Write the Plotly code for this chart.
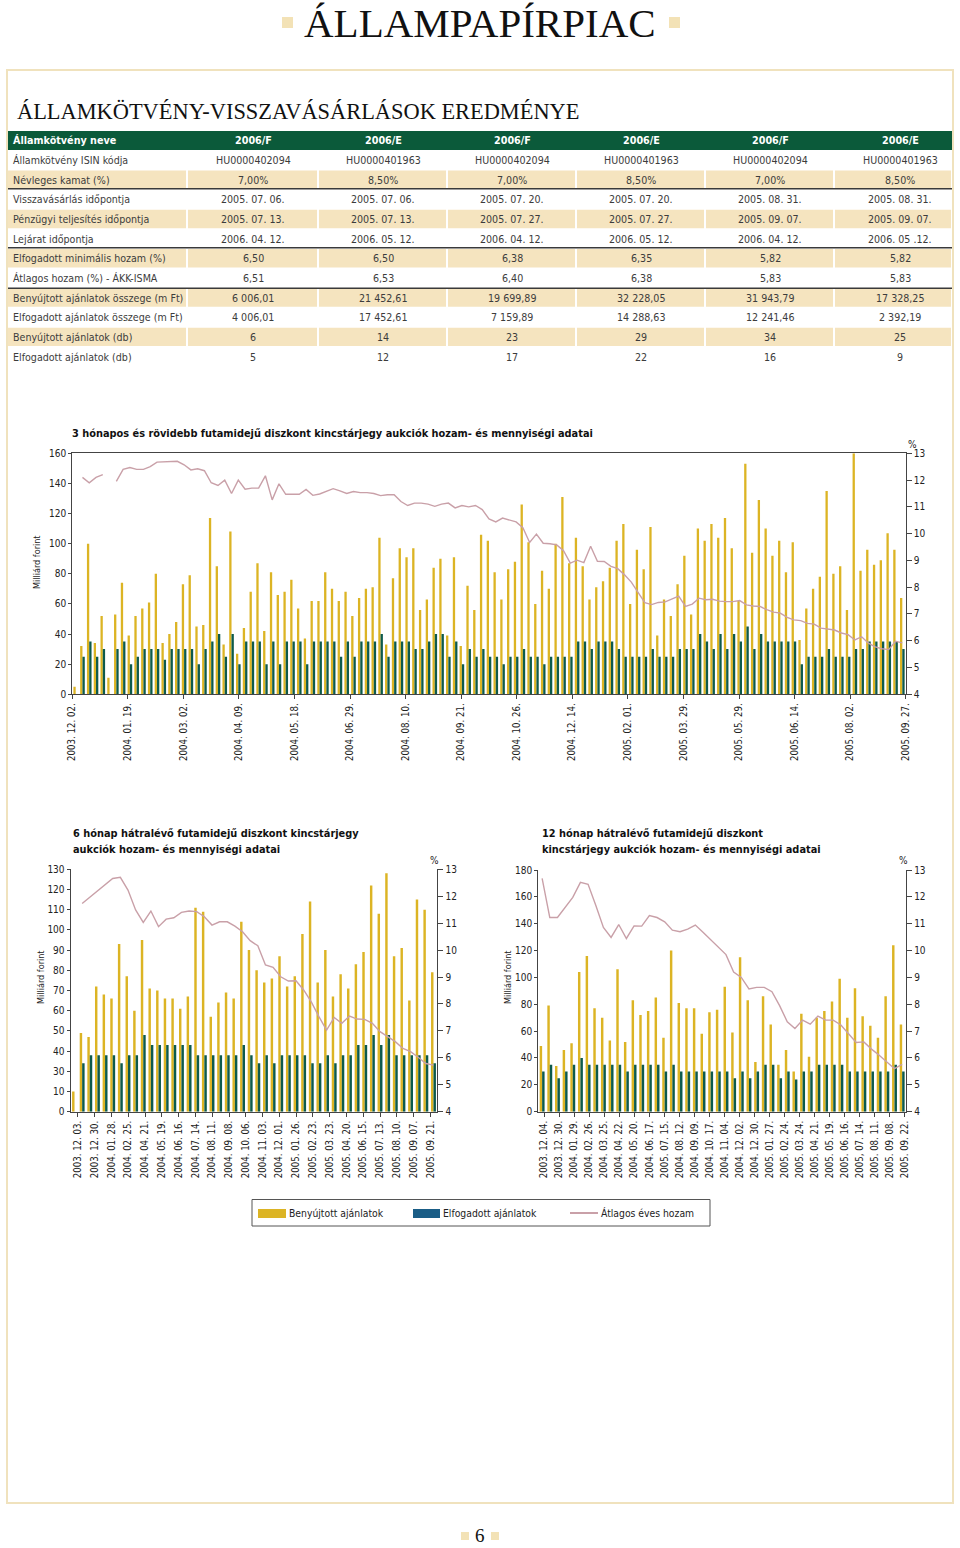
import plotly.graph_objects as go

# ---------------------------------------------------------------- data
table_header = ["Államkötvény neve", "2006/F", "2006/E", "2006/F", "2006/E", "2006/F", "2006/E"]
row_labels = [
    "Államkötvény ISIN kódja", "Névleges kamat (%)", "Visszavásárlás időpontja",
    "Pénzügyi teljesítés időpontja", "Lejárat időpontja", "Elfogadott minimális hozam (%)",
    "Átlagos hozam (%) - ÁKK-ISMA", "Benyújtott ajánlatok összege (m Ft)",
    "Elfogadott ajánlatok összege (m Ft)", "Benyújtott ajánlatok (db)", "Elfogadott ajánlatok (db)",
]
isin_codes = ["HU0000402094", "HU0000401963", "HU0000402094", "HU0000401963", "HU0000402094", "HU0000401963"]
nominal_rate = ["7,00%", "8,50%", "7,00%", "8,50%", "7,00%", "8,50%"]
buyback_date = ["2005. 07. 06.", "2005. 07. 06.", "2005. 07. 20.", "2005. 07. 20.", "2005. 08. 31.", "2005. 08. 31."]
settlement_date = ["2005. 07. 13.", "2005. 07. 13.", "2005. 07. 27.", "2005. 07. 27.", "2005. 09. 07.", "2005. 09. 07."]
maturity_date = ["2006. 04. 12.", "2006. 05. 12.", "2006. 04. 12.", "2006. 05. 12.", "2006. 04. 12.", "2006. 05 .12."]
min_yield = ["6,50", "6,50", "6,38", "6,35", "5,82", "5,82"]
avg_yield = ["6,51", "6,53", "6,40", "6,38", "5,83", "5,83"]
submitted_amount = ["6 006,01", "21 452,61", "19 699,89", "32 228,05", "31 943,79", "17 328,25"]
accepted_amount = ["4 006,01", "17 452,61", "7 159,89", "14 288,63", "12 241,46", "2 392,19"]
submitted_count = ["6", "14", "23", "29", "34", "25"]
accepted_count = ["5", "12", "17", "22", "16", "9"]

# 3 hónapos és rövidebb
top_labels = ["2003. 12. 02.", "2004. 01. 19.", "2004. 03. 02.", "2004. 04. 09.", "2004. 05. 18.",
              "2004. 06. 29.", "2004. 08. 10.", "2004. 09. 21.", "2004. 10. 26.", "2004. 12. 14.",
              "2005. 02. 01.", "2005. 03. 29.", "2005. 05. 29.", "2005. 06. 14.", "2005. 08. 02.",
              "2005. 09. 27."]
top_submitted = [5, 32, 100, 34, 52, 11, 53, 74, 39, 52, 57, 61, 80, 34, 40, 48, 73, 79, 45, 46,
                 117, 85, 33, 108, 27, 44, 68, 87, 42, 81, 66, 68, 76, 57, 37, 62, 62, 81, 70, 62,
                 68, 52, 64, 70, 71, 104, 33, 77, 97, 91, 97, 56, 63, 84, 90, 39, 91, 32, 72, 56,
                 106, 102, 81, 63, 83, 88, 126, 101, 60, 82, 70, 100, 131, 87, 104, 85, 63, 71, 75, 84,
                 102, 113, 60, 96, 83, 111, 39, 63, 52, 73, 92, 53, 110, 102, 113, 104, 117, 97, 62, 153,
                 94, 129, 110, 92, 102, 81, 101, 36, 57, 70, 78, 135, 80, 85, 56, 160, 82, 96, 86, 89,
                 107, 96, 64]
top_accepted = [0, 25, 35, 25, 30, 0, 30, 35, 20, 25, 30, 30, 30, 23, 30, 30, 30, 30, 20, 30,
                35, 40, 25, 40, 20, 35, 35, 35, 20, 35, 20, 35, 35, 35, 20, 35, 35, 35, 35, 25,
                35, 25, 35, 35, 35, 40, 25, 35, 35, 35, 30, 30, 35, 40, 40, 25, 35, 20, 30, 25,
                30, 25, 25, 20, 25, 25, 30, 25, 25, 20, 25, 25, 25, 25, 35, 35, 30, 35, 35, 35,
                30, 25, 25, 25, 25, 30, 25, 25, 25, 30, 30, 30, 40, 35, 30, 40, 30, 40, 35, 45,
                30, 40, 35, 35, 35, 35, 35, 20, 25, 25, 25, 30, 25, 25, 25, 30, 30, 35, 35, 35,
                35, 35, 30]
top_yield = [None, 12.1, 11.9, 12.1, 12.2, None, 11.95, 12.4, 12.47, 12.4, 12.4, 12.5, 12.67, 12.68,
             12.7, 12.7, 12.57, 12.38, 12.42, 12.35, 11.9, 11.8, 12.0, 11.5, 12.0, 11.66, 11.7, 11.7,
             12.16, 11.26, 11.86, 11.47, 11.47, 11.47, 11.65, 11.43, 11.48, 11.57, 11.68, 11.6, 11.5,
             11.57, 11.53, 11.53, 11.5, 11.42, 11.45, 11.45, 11.2, 11.05, 11.14, 11.14, 11.1, 11.02,
             11.1, 11.14, 10.96, 11.05, 11.0, 11.05, 10.9, 10.55, 10.44, 10.58, 10.5, 10.44, 10.22,
             9.67, 9.98, 9.64, 9.62, 9.58, 9.36, 8.9, 9.01, 8.92, 9.53, 8.97, 8.96, 8.78, 8.69, 8.46,
             8.19, 7.8, 7.42, 7.35, 7.43, 7.45, 7.55, 7.67, 7.28, 7.37, 7.59, 7.53, 7.55, 7.48, 7.46,
             7.46, 7.5, 7.34, 7.3, 7.28, 7.16, 7.07, 7.03, 6.87, 6.78, 6.75, 6.65, 6.62, 6.47, 6.43,
             6.4, 6.29, 6.23, 6.03, 6.15, 5.91, 5.77, 5.7, 5.67, 5.98, 5.92]

# 6 hónap hátralévő futamidő (left axis printed labels as in the original)
six_labels = ["2003. 12. 03.", "2003. 12. 30.", "2004. 01. 28.", "2004. 02. 25.", "2004. 04. 21.",
              "2004. 05. 19.", "2004. 06. 16.", "2004. 07. 14.", "2004. 08. 11.", "2004. 09. 08.",
              "2004. 10. 06.", "2004. 11. 03.", "2004. 12. 01.", "2005. 01. 26.", "2005. 02. 23.",
              "2005. 03. 23.", "2005. 04. 20.", "2005. 06. 15.", "2005. 07. 13.", "2005. 08. 10.",
              "2005. 09. 07.", "2005. 09. 21."]
six_left_ticktext = ["0", "10", "30", "40", "50", "60", "70", "80", "90", "100", "110", "120", "130"]
six_submitted = [10, 39, 37, 62, 58, 56, 83, 67, 50, 85, 61, 60, 56, 56, 51, 57, 101, 99, 47, 54,
                 59, 56, 94, 80, 70, 64, 66, 77, 62, 67, 88, 104, 64, 80, 57, 68, 61, 73, 79, 112,
                 98, 118, 77, 81, 55, 105, 100, 69]
six_accepted = [0, 24, 28, 28, 28, 28, 24, 28, 28, 38, 33, 33, 33, 33, 33, 33, 28, 28, 28, 28,
                28, 28, 33, 28, 24, 28, 24, 28, 28, 28, 28, 24, 24, 28, 24, 28, 28, 33, 33, 38,
                33, 38, 28, 28, 28, 28, 28, 24]
six_yield = [None, 11.73, 11.96, 12.17, 12.42, 12.66, 12.7, 12.23, 11.49, 11.03, 11.45, 10.87, 11.15,
             11.2, 11.4, 11.45, 11.43, 11.24, 10.93, 11.05, 11.05, 10.89, 10.68, 10.35, 10.16, 9.45,
             9.36, 9.01, 8.85, 8.86, 8.52, 8.08, 7.53, 7.03, 7.5, 7.28, 7.55, 7.44, 7.43, 7.28, 6.97,
             6.78, 6.6, 6.35, 6.23, 6.02, 5.79, 5.73]

# 12 hónap hátralévő futamidő
twelve_labels = ["2003. 12. 04.", "2003. 12. 30.", "2004. 01. 29.", "2004. 02. 26.", "2004. 03. 25.",
                 "2004. 04. 22.", "2004. 05. 20.", "2004. 06. 17.", "2005. 07. 15.", "2004. 08. 12.",
                 "2004. 09. 09.", "2004. 10. 17.", "2004. 11. 04.", "2004. 12. 02.", "2004. 12. 30.",
                 "2005. 01. 27.", "2005. 02. 24.", "2005. 03. 24.", "2005. 04. 21.", "2005. 05. 19.",
                 "2005. 06. 16.", "2005, 07. 14.", "2005. 08. 11.", "2005. 09. 08.", "2005. 09. 22."]
twelve_submitted = [49, 79, 34, 46, 51, 104, 116, 77, 70, 53, 106, 52, 83, 72, 75, 85, 55, 120, 81, 77,
                    77, 58, 74, 76, 93, 59, 115, 83, 37, 86, 65, 35, 46, 30, 73, 41, 70, 75, 82, 99,
                    70, 92, 71, 64, 55, 86, 124, 65]
twelve_accepted = [30, 35, 25, 30, 35, 40, 35, 35, 35, 35, 35, 30, 35, 35, 35, 35, 30, 35, 30, 30,
                   30, 30, 30, 30, 30, 25, 30, 25, 30, 35, 35, 25, 30, 24, 30, 30, 35, 35, 35, 35,
                   30, 30, 30, 30, 30, 30, 35, 30]
twelve_yield = [12.69, 11.23, 11.23, 11.6, 11.98, 12.54, 12.47, 11.69, 10.86, 10.49, 10.97, 10.45,
                10.92, 10.91, 11.3, 11.23, 11.07, 10.76, 10.7, 10.8, 10.95, 10.68, 10.4, 10.1, 9.85,
                9.2, 9.0, 8.57, 8.63, 8.63, 8.47, 7.95, 7.35, 7.1, 7.41, 7.26, 7.56, 7.41, 7.41, 7.23,
                6.9, 6.58, 6.6, 6.33, 6.1, 5.86, 5.6, 5.76]

legend_names = ["Benyújtott ajánlatok", "Elfogadott ajánlatok", "Átlagos éves hozam"]

# ---------------------------------------------------------------- style
W, H = 960, 1548
GOLD = "#dcb424"
TEAL = "#0d5a4c"
LEG_BLUE = "#1a5d86"
PINK = "#c9a0a8"
BEIGE = "#f5e4bf"
FRAME = "#f0e2bd"
DGREEN = "#0b5a3a"
AXIS = "#444444"
TXT = "#222222"
NARROW = "DejaVu Sans Condensed, Roboto, sans-serif"
SERIF = "Liberation Serif, DejaVu Serif, serif"


def X(p):
    return p / W


def Y(p):
    return 1 - p / H


fig = go.Figure()
shapes = []
annots = []


def text(x, y, s, size=12, color=TXT, anchor="left", family=NARROW, bold=False, angle=0, va="middle"):
    if bold:
        s = "<b>" + s + "</b>"
    annots.append(dict(x=X(x), y=Y(y), xref="paper", yref="paper", text=s, showarrow=False,
                       xanchor=anchor, yanchor=va, textangle=angle, borderpad=0,
                       font=dict(size=size, color=color, family=family)))


def rect(x0, y0, x1, y1, fill, layer="below"):
    shapes.append(dict(type="rect", xref="paper", yref="paper", x0=X(x0), x1=X(x1), y0=Y(y1), y1=Y(y0),
                       fillcolor=fill, line=dict(color=fill, width=0), layer=layer))


def hline(x0, x1, y, color, width):
    shapes.append(dict(type="line", xref="paper", yref="paper", x0=X(x0), x1=X(x1), y0=Y(y), y1=Y(y),
                       line=dict(color=color, width=width)))


# ---------------------------------------------------------------- page header
text(480, 23, "ÁLLAMPAPÍRPIAC", size=41, color="#111", anchor="center", family=SERIF)
rect(282, 17, 293, 28, "#f3e2b6")
rect(669, 17, 680, 28, "#f3e2b6")
shapes.append(dict(type="rect", xref="paper", yref="paper", x0=X(7), x1=X(953), y0=Y(1503), y1=Y(70),
                   line=dict(color=FRAME, width=2), fillcolor="rgba(0,0,0,0)", layer="below"))
text(16, 111, "ÁLLAMKÖTVÉNY-VISSZAVÁSÁRLÁSOK EREDMÉNYE", size=22.4, color="#111", family=SERIF)

# ---------------------------------------------------------------- table
col_edges = [8, 187, 318, 447, 576, 705, 834, 952]
col_centers = [253, 383, 512, 641, 770, 900]
rect(8, 131, 952, 150, DGREEN)
text(12, 140.5, table_header[0], size=10.7, color="white", bold=True)
for c, h in zip(col_centers, table_header[1:]):
    text(c, 140.5, h, size=10.7, color="white", bold=True, anchor="center")

table_rows = [isin_codes, nominal_rate, buyback_date, settlement_date, maturity_date, min_yield,
              avg_yield, submitted_amount, accepted_amount, submitted_count, accepted_count]
for r, (lab, vals) in enumerate(zip(row_labels, table_rows)):
    yc = 160.0 + r * 19.65
    if r % 2 == 1:
        for k in range(7):
            rect(col_edges[k] + (0 if k == 0 else 1), yc - 9.2, col_edges[k + 1] - 1, yc + 9.2, BEIGE)
    text(12, yc, lab, size=10.6, color="#3c3c3c")
    for c, v in zip(col_centers, vals):
        text(c, yc, v, size=10.6, color="#3c3c3c", anchor="center")
for yl in (188.8, 247.8, 288.2):
    hline(8, 952, yl, "#3a3a3a", 1.6)

# ---------------------------------------------------------------- charts


def add_chart(idx, sub, acc, yld, bar_w, xdom, ydom, yrange, ytickvals, yticktext, labels, lab_first, lab_last):
    n = len(sub)
    xs = list(range(n))
    xa = "x" if idx == 1 else "x%d" % idx
    ya = "y" if idx == 1 else "y%d" % idx
    ya2 = "y%d" % (idx + 1)
    fig.add_trace(go.Bar(x=xs, y=sub, xaxis=xa, yaxis=ya, width=bar_w, offset=-bar_w,
                         marker=dict(color=GOLD, line=dict(width=0)), showlegend=False, name=legend_names[0]))
    fig.add_trace(go.Bar(x=xs, y=acc, xaxis=xa, yaxis=ya, width=bar_w, offset=0.0,
                         marker=dict(color=TEAL, line=dict(width=0)), showlegend=False, name=legend_names[1]))
    fig.add_trace(go.Scatter(x=xs, y=yld, xaxis=xa, yaxis=ya2, mode="lines", connectgaps=False,
                             line=dict(color=PINK, width=1.4), showlegend=False, name=legend_names[2]))
    m = len(labels)
    tv = [lab_first + k * (lab_last - lab_first) / (m - 1) for k in range(m)]
    xkey = "xaxis" if idx == 1 else "xaxis%d" % idx
    ykey = "yaxis" if idx == 1 else "yaxis%d" % idx
    y2key = "yaxis%d" % (idx + 1)
    fig.layout[xkey] = dict(domain=[X(xdom[0]), X(xdom[1])], anchor=ya, range=[-0.5, n - 0.5],
                            tickmode="array", tickvals=tv, ticktext=labels, tickangle=-90,
                            showline=True, linecolor=AXIS, linewidth=1.3, mirror=(idx == 1),
                            ticks="outside", ticklen=4, tickcolor=AXIS, showgrid=False, zeroline=False,
                            tickfont=dict(size=9.6, color=TXT, family=NARROW), automargin=False,
                            fixedrange=True)
    fig.layout[ykey] = dict(domain=[Y(ydom[1]), Y(ydom[0])], anchor=xa, range=yrange,
                            tickmode="array", tickvals=ytickvals, ticktext=yticktext,
                            showline=True, linecolor=AXIS, linewidth=1.3, ticks="outside", ticklen=3,
                            tickcolor=AXIS, showgrid=False, zeroline=False, automargin=False,
                            tickfont=dict(size=10, color=TXT, family=NARROW))
    fig.layout[y2key] = dict(domain=[Y(ydom[1]), Y(ydom[0])], anchor=xa, overlaying=ya, side="right",
                             range=[4, 13], tickmode="array", tickvals=list(range(4, 14)),
                             showline=True, linecolor=AXIS, linewidth=1.3, ticks="outside", ticklen=5,
                             tickcolor=AXIS, showgrid=False, zeroline=False, automargin=False,
                             tickfont=dict(size=10, color=TXT, family=NARROW))


# top chart
add_chart(1, top_submitted, top_accepted, top_yield, 0.34, (72.3, 905.7), (453.3, 694.3),
          [0, 160], list(range(0, 161, 20)), [str(v) for v in range(0, 161, 20)],
          top_labels, -0.5, len(top_submitted) - 0.5)
text(71, 434, "3 hónapos és rövidebb futamidejű diszkont kincstárjegy aukciók hozam- és mennyiségi adatai",
     size=10.9, color="#111", bold=True)
text(37, 562, "Milliárd forint", size=9, angle=-90, anchor="center")
text(912, 445, "%", size=10, anchor="center")

# 6 month chart
add_chart(3, six_submitted, six_accepted, six_yield, 0.32, (70.7, 437.3), (869.3, 1111.7),
          [0, 120], list(range(0, 121, 10)), six_left_ticktext,
          six_labels, 0.45, 46.6)
text(71.5, 833, "6 hónap hátralévő futamidejű diszkont kincstárjegy", size=10.9, color="#111", bold=True)
text(71.5, 849, "aukciók hozam- és mennyiségi adatai", size=10.9, color="#111", bold=True)
text(41, 977, "Milliárd forint", size=9, angle=-90, anchor="center")
text(434, 860, "%", size=10, anchor="center")

# 12 month chart
add_chart(5, twelve_submitted, twelve_accepted, twelve_yield, 0.32, (538.3, 906.0), (870.0, 1111.7),
          [0, 180], list(range(0, 181, 20)), [str(v) for v in range(0, 181, 20)],
          twelve_labels, 0.29, 47.3)
text(540.5, 833, "12 hónap hátralévő futamidejű diszkont", size=10.9, color="#111", bold=True)
text(540.5, 849, "kincstárjegy aukciók hozam- és mennyiségi adatai", size=10.9, color="#111", bold=True)
text(508, 977, "Milliárd forint", size=9, angle=-90, anchor="center")
text(903, 860, "%", size=10, anchor="center")

# ---------------------------------------------------------------- legend
shapes.append(dict(type="rect", xref="paper", yref="paper", x0=X(252), x1=X(710), y0=Y(1226), y1=Y(1199.5),
                   line=dict(color="#555", width=1), fillcolor="rgba(0,0,0,0)", layer="below"))
rect(258, 1209, 286, 1218, GOLD, layer="above")
text(288, 1213, legend_names[0], size=10.3)
rect(413, 1209, 440, 1218, LEG_BLUE, layer="above")
text(442, 1213, legend_names[1], size=10.3)
hline(570, 598, 1213, PINK, 2)
text(600, 1213, legend_names[2], size=10.3)

# ---------------------------------------------------------------- page number
text(480, 1535, "6", size=19, color="#111", anchor="center", family=SERIF)
rect(461, 1532, 469, 1540, "#f3e2b6")
rect(491, 1532, 499, 1540, "#f3e2b6")

fig.update_layout(width=W, height=H, margin=dict(l=0, r=0, t=0, b=0, pad=0, autoexpand=False),
                  paper_bgcolor="white", plot_bgcolor="white", barmode="overlay",
                  shapes=shapes, annotations=annots, showlegend=False)
fig.write_html("out.html")
